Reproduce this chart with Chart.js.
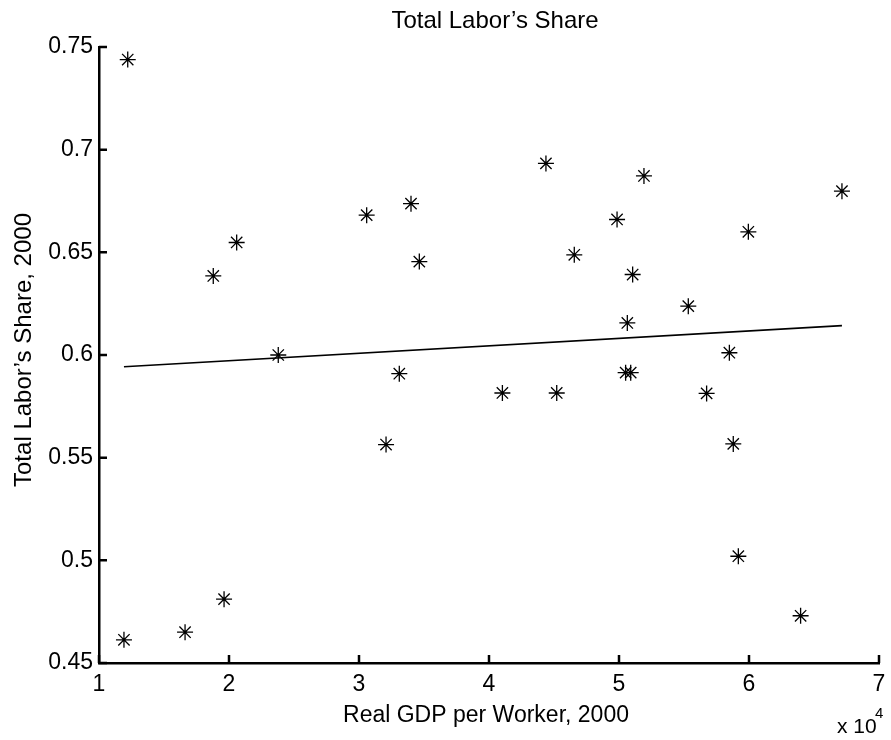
<!DOCTYPE html>
<html>
<head>
    <script src="https://cdn.jsdelivr.net/npm/chart.js@4.4.0/dist/chart.umd.min.js"></script>
    <title>Total Labor's Share</title>
    <style>
        body { margin: 0; background: white; }
    </style>
</head>

<body>
<canvas id="myChart" width="891" height="740"></canvas>

<script>
    // real GDP per worker (2000) and total labor's share (2000)
    var gdpPerWorker = [11920, 12210, 16620, 18790, 19620, 20590, 23790, 30590, 32080, 33100,
                        34000, 34640, 41030, 44380, 45210, 46560, 49850, 50510, 50640, 50900,
                        51050, 51920, 55330, 56740, 58490, 58790, 59180, 59950, 63970, 67150];
    var laborShare = [0.4613, 0.7439, 0.4650, 0.6385, 0.4811, 0.6548, 0.6000, 0.6681, 0.5564, 0.5909,
                      0.6737, 0.6455, 0.5815, 0.6933, 0.5815, 0.6488, 0.6660, 0.5914, 0.6156, 0.5914,
                      0.6392, 0.6872, 0.6238, 0.5813, 0.6011, 0.5567, 0.5020, 0.6600, 0.4730, 0.6798];

    // fitted line end points
    var fitX = [11920, 67150];
    var fitY = [0.5943, 0.6143];

    var xTicks = [10000, 20000, 30000, 40000, 50000, 60000, 70000];
    var yTicks = [0.45, 0.5, 0.55, 0.6, 0.65, 0.7, 0.75];

    var chartTitle = "Total Labor\u2019s Share";
    var xTitle = "Real GDP per Worker, 2000";
    var yTitle = "Total Labor\u2019s Share, 2000";

    var fontFamily = '"Liberation Sans", Arial, Helvetica, sans-serif';

    var points = [];
    for (let i = 0; i < gdpPerWorker.length; i++) {
        points.push({x: gdpPerWorker[i], y: laborShare[i]});
    }
    var fitLine = [];
    for (let i = 0; i < fitX.length; i++) {
        fitLine.push({x: fitX[i], y: fitY[i]});
    }

    // matlab style: ticks pointing inward, titles and the x 10^4 exponent
    var matlabDecor = {
        id: 'matlabDecor',
        afterDraw: function(chart) {
            var ctx = chart.ctx;
            var area = chart.chartArea;
            var xs = chart.scales.x;
            var ys = chart.scales.y;
            ctx.save();
            ctx.strokeStyle = '#000';
            ctx.lineWidth = 2.5;
            ctx.beginPath();
            xTicks.forEach(function(v) {
                var px = xs.getPixelForValue(v);
                ctx.moveTo(px, area.bottom);
                ctx.lineTo(px, area.bottom - 8);
            });
            yTicks.forEach(function(v) {
                var py = ys.getPixelForValue(v);
                ctx.moveTo(area.left, py);
                ctx.lineTo(area.left + 8, py);
            });
            ctx.stroke();

            ctx.fillStyle = '#000';
            ctx.textBaseline = 'alphabetic';
            ctx.textAlign = 'center';
            ctx.font = '24px ' + fontFamily;
            ctx.fillText(chartTitle, 495, 28);
            ctx.font = '23px ' + fontFamily;
            ctx.fillText(xTitle, 486, 722);

            ctx.font = '24px ' + fontFamily;
            ctx.save();
            ctx.translate(31, 350);
            ctx.rotate(-Math.PI / 2);
            ctx.fillText(yTitle, 0, 0);
            ctx.restore();

            ctx.textAlign = 'left';
            ctx.font = '21px ' + fontFamily;
            ctx.fillText('x 10', 837, 733);
            ctx.font = '15px ' + fontFamily;
            ctx.fillText('4', 875, 718);
            ctx.restore();
        }
    };

    var ctx = document.getElementById('myChart').getContext('2d');
    var myChart = new Chart(ctx, {
        type: 'scatter',
        data: {
            datasets: [
                {
                    label: 'countries',
                    data: points,
                    pointStyle: 'star',
                    radius: 8,
                    borderColor: '#000',
                    backgroundColor: '#000',
                    borderWidth: 1.3
                },
                {
                    type: 'line',
                    label: 'fit',
                    data: fitLine,
                    borderColor: '#000',
                    borderWidth: 1.6,
                    pointRadius: 0,
                    fill: false
                }
            ]
        },
        options: {
            responsive: false,
            animation: false,
            events: [],
            layout: {
                padding: {left: 0, right: 12, top: 47, bottom: 0}
            },
            plugins: {
                legend: {display: false},
                tooltip: {enabled: false}
            },
            scales: {
                x: {
                    type: 'linear',
                    min: 10000,
                    max: 70000,
                    afterBuildTicks: function(scale) {
                        scale.ticks = xTicks.map(function(v) { return {value: v}; });
                    },
                    afterFit: function(scale) {
                        scale.height = 77;
                        scale.paddingLeft = 0;
                        scale.paddingRight = 0;
                    },
                    ticks: {
                        color: '#000',
                        padding: 8,
                        font: {family: fontFamily, size: 23},
                        callback: function(v) { return String(v / 10000); }
                    },
                    grid: {display: false, drawTicks: false},
                    border: {display: true, color: '#000', width: 2.5}
                },
                y: {
                    min: 0.45,
                    max: 0.75,
                    afterBuildTicks: function(scale) {
                        scale.ticks = yTicks.map(function(v) { return {value: v}; });
                    },
                    afterFit: function(scale) {
                        scale.width = 99;
                        scale.paddingTop = 0;
                        scale.paddingBottom = 0;
                    },
                    ticks: {
                        color: '#000',
                        padding: 6,
                        font: {family: fontFamily, size: 23},
                        callback: function(v) { return String(Number(v.toFixed(2))); }
                    },
                    grid: {display: false, drawTicks: false},
                    border: {display: true, color: '#000', width: 2.5}
                }
            }
        },
        plugins: [matlabDecor]
    });
</script>

</body>
</html>
